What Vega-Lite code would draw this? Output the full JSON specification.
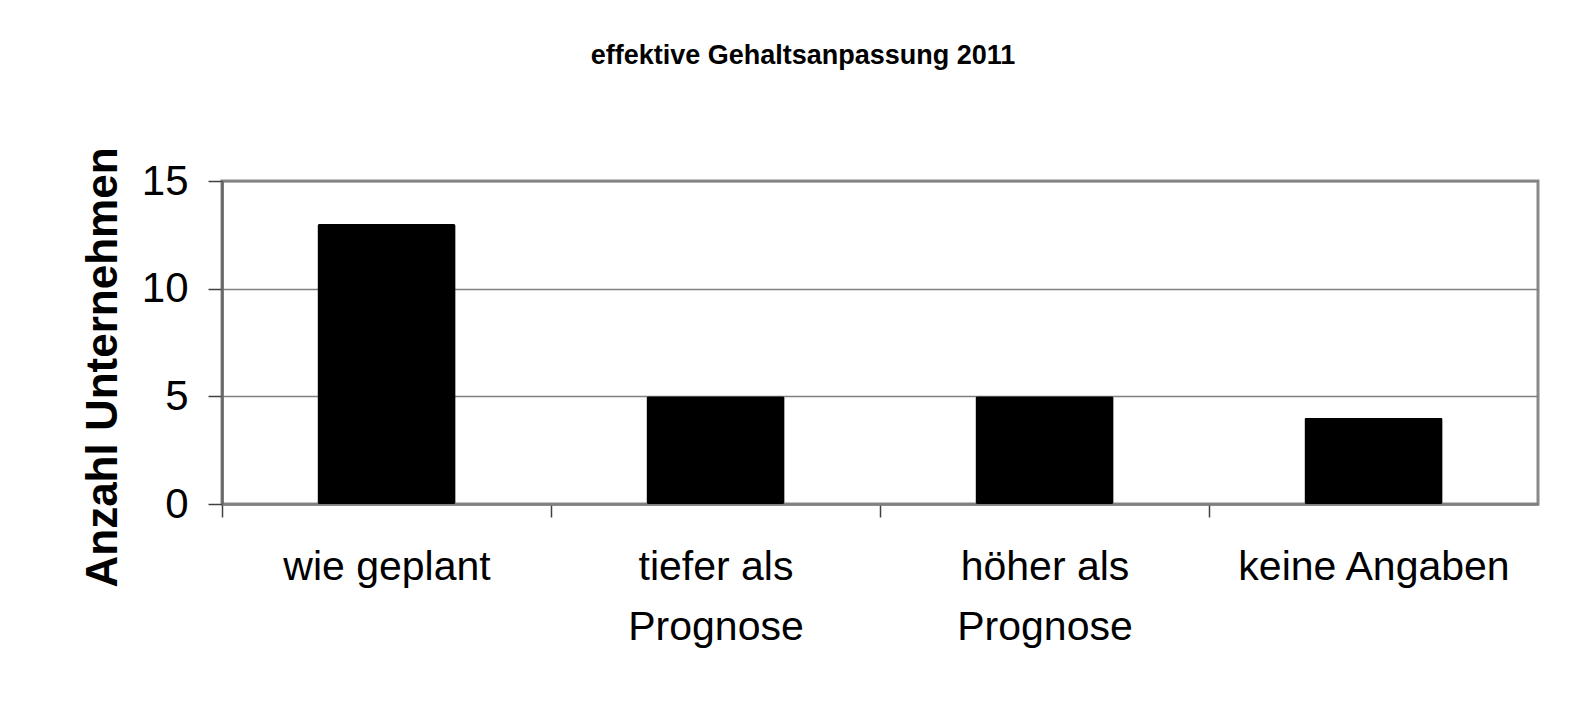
{
  "$schema": "https://vega.github.io/schema/vega-lite/v6.json",
  "width": 1316,
  "height": 323,
  "autosize": {"type": "none"},
  "padding": {"left": 222, "top": 181, "right": 42, "bottom": 211},
  "background": "white",
  "title": {
    "text": "effektive Gehaltsanpassung 2011",
    "font": "Liberation Sans",
    "fontSize": 27,
    "fontWeight": "bold",
    "color": "black",
    "anchor": "middle",
    "frame": "group",
    "dx": -77,
    "offset": 77
  },
  "data": {
    "values": [
      {"kategorie": "wie geplant", "anzahl": 13},
      {"kategorie": "tiefer als Prognose", "anzahl": 5},
      {"kategorie": "höher als Prognose", "anzahl": 5},
      {"kategorie": "keine Angaben", "anzahl": 4}
    ]
  },
  "mark": {"type": "bar", "color": "black", "cornerRadius": 2},
  "encoding": {
    "x": {
      "field": "kategorie",
      "type": "nominal",
      "sort": null,
      "scale": {"paddingInner": 0.58, "paddingOuter": 0.29},
      "axis": {
        "title": null,
        "labelAngle": 0,
        "labelFont": "Liberation Sans",
        "labelFontSize": 41,
        "labelColor": "black",
        "labelLineHeight": 60,
        "labelBaseline": "top",
        "labelPadding": 30,
        "labelLimit": 500,
        "tickSize": 13,
        "tickColor": "#404040",
        "tickWidth": 1.5,
        "tickOffset": -164.5,
        "labelOffset": 164.5,
        "domainColor": "#808080",
        "domainWidth": 2.5,
        "labelExpr": "test(/Prognose/, datum.label) ? [replace(datum.label, ' Prognose', ''), 'Prognose'] : datum.label"
      }
    },
    "y": {
      "field": "anzahl",
      "type": "quantitative",
      "scale": {"domain": [0, 15]},
      "axis": {
        "values": [0, 5, 10, 15],
        "title": "Anzahl Unternehmen",
        "titleFont": "Liberation Sans",
        "titleFontSize": 44,
        "titleFontWeight": "bold",
        "titleColor": "black",
        "titleAngle": -90,
        "titleAlign": "center",
        "titleBaseline": "alphabetic",
        "titleX": -106,
        "titleY": 186,
        "labelFont": "Liberation Sans",
        "labelFontSize": 42,
        "labelColor": "black",
        "labelPadding": 20,
        "tickSize": 14,
        "tickColor": "#404040",
        "tickWidth": 1.5,
        "domainColor": "#666666",
        "domainWidth": 2.5,
        "grid": true,
        "gridColor": "#808080",
        "gridWidth": 1.5
      }
    }
  },
  "config": {
    "view": {"stroke": "#8a8a8a", "strokeWidth": 3},
    "axis": {"labelFlush": false, "labelOverlap": false}
  }
}
